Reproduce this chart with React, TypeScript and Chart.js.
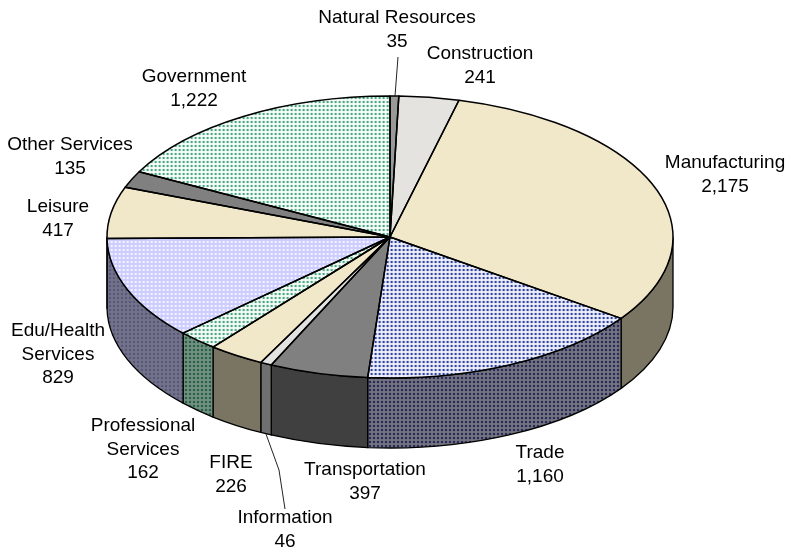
import React, { useEffect, useRef } from "react";
import { Chart, registerables } from "chart.js";

Chart.register(...registerables);

const categories = [
  "Natural Resources", "Construction", "Manufacturing", "Trade", "Transportation", "Information",
  "FIRE", "Professional Services", "Edu/Health Services", "Leisure", "Other Services", "Government",
];
const values = [35, 241, 2175, 1160, 397, 46, 226, 162, 829, 417, 135, 1222];

const labelLines = [
  ["Natural Resources"], ["Construction"], ["Manufacturing"], ["Trade"], ["Transportation"], ["Information"],
  ["FIRE"], ["Professional", "Services"], ["Edu/Health", "Services"], ["Leisure"], ["Other Services"], ["Government"],
];
// Label block anchor: centre x, centre y of first line
const labelAnchors = [
  [397, 18], [480, 54], [725, 163], [540, 453], [365, 470], [285, 518],
  [231, 463], [143, 426], [58, 331], [58, 207], [70, 145], [194, 77],
];
const leaderLines = [
  [[398, 57], [395, 96]],
  [[266, 434], [279, 470], [285, 509]],
];

type Fill = string | [string, string];
const topFills: Fill[] = [
  "#999999", "#E4E3DF", "#F0E8C8", ["#EEF0FA", "#2F42A0"], "#808080", "#E2E2E0",
  "#F0E8C8", ["#F6FBF8", "#48A883"], ["#CCCCFF", "#F4F4FF"], "#F0E8C8", "#808080", ["#FAFDFB", "#48A883"],
];
const wallFills: Fill[] = [
  "#4D4D4D", "#727270", "#7A7562", ["#74747E", "#262A5C"], "#404040", "#707070",
  "#7A7562", ["#72907F", "#28604A"], ["#72728A", "#585878"], "#7A7562", "#404040", "#5F8A78",
];

const GEOM = { cx: 390, cy: 237, rx: 283, ry: 141, depth: 70 };
const FONT = '19px "Liberation Sans", Arial, sans-serif';
const LINE_H = 23.3;

function resolve(ctx: CanvasRenderingContext2D, f: Fill): string | CanvasPattern {
  if (typeof f === "string") return f;
  const c = document.createElement("canvas");
  c.width = 4;
  c.height = 4;
  const g = c.getContext("2d")!;
  g.fillStyle = f[0];
  g.fillRect(0, 0, 4, 4);
  g.fillStyle = f[1];
  g.globalAlpha = 0.08;
  g.fillRect(0, 1, 4, 2);
  g.fillRect(1, 0, 2, 4);
  g.globalAlpha = 1;
  g.fillRect(1, 1, 2, 2);
  return ctx.createPattern(c, "repeat")!;
}

export default function App() {
  const ref = useRef<HTMLCanvasElement>(null);
  useEffect(() => {
    const canvas = ref.current!;
    const ctx = canvas.getContext("2d")!;
    const tops = topFills.map((f) => resolve(ctx, f));
    const walls = wallFills.map((f) => resolve(ctx, f));
    const { cx, cy, rx, ry, depth } = GEOM;

    const pie3d = {
      id: "pie3d",
      beforeDatasetsDraw(chart: any) {
        const c = chart.ctx as CanvasRenderingContext2D;
        const arcs = chart.getDatasetMeta(0).data;
        c.save();
        c.strokeStyle = "#000";
        c.lineWidth = 1.3;
        c.lineJoin = "round";
        arcs.forEach((a: any, i: number) => {
          const s = Math.max(a.startAngle, 0);
          const e = Math.min(a.endAngle, Math.PI);
          if (e <= s) return;
          c.beginPath();
          c.ellipse(cx, cy, rx, ry, 0, s, e, false);
          c.ellipse(cx, cy + depth, rx, ry, 0, e, s, true);
          c.closePath();
          c.fillStyle = walls[i] as any;
          c.fill();
          c.stroke();
        });
        c.restore();
      },
      beforeDatasetDraw(chart: any) {
        const c = chart.ctx as CanvasRenderingContext2D;
        const a = chart.getDatasetMeta(0).data[0];
        const sx = rx / a.outerRadius;
        const sy = ry / a.outerRadius;
        tops.forEach((p: any) => {
          if (typeof p !== "string") p.setTransform(new DOMMatrix([1 / sx, 0, 0, 1 / sy, 0, 0]));
        });
        c.save();
        c.translate(cx, cy);
        c.scale(sx, sy);
        c.translate(-a.x, -a.y);
      },
      afterDatasetDraw(chart: any) {
        chart.ctx.restore();
      },
      afterDatasetsDraw(chart: any) {
        const c = chart.ctx as CanvasRenderingContext2D;
        const arcs = chart.getDatasetMeta(0).data;
        c.save();
        c.strokeStyle = "#000";
        c.lineWidth = 1.5;
        c.lineJoin = "round";
        arcs.forEach((a: any) => {
          c.beginPath();
          c.moveTo(cx, cy);
          c.ellipse(cx, cy, rx, ry, 0, a.startAngle, a.endAngle, false);
          c.closePath();
          c.stroke();
        });
        c.lineWidth = 1;
        c.strokeStyle = "#222";
        leaderLines.forEach((pts) => {
          c.beginPath();
          pts.forEach((p, k) => (k ? c.lineTo(p[0], p[1]) : c.moveTo(p[0], p[1])));
          c.stroke();
        });
        c.fillStyle = "#000";
        c.font = FONT;
        c.textAlign = "center";
        c.textBaseline = "middle";
        categories.forEach((_, i) => {
          const lines = [...labelLines[i], values[i].toLocaleString("en-US")];
          lines.forEach((t, j) => c.fillText(t, labelAnchors[i][0], labelAnchors[i][1] + j * LINE_H));
        });
        c.restore();
      },
    };

    const chart = new Chart(canvas, {
      type: "pie",
      data: {
        labels: categories,
        datasets: [{ data: values, backgroundColor: tops as any, borderWidth: 0, clip: false as any }],
      },
      options: {
        responsive: false,
        animation: false,
        events: [],
        rotation: 0,
        layout: { padding: 0 },
        plugins: { legend: { display: false }, tooltip: { enabled: false }, title: { display: false } },
      },
      plugins: [pie3d as any],
    });
    return () => chart.destroy();
  }, []);
  return (
    <canvas
      ref={ref}
      width={786}
      height={550}
      style={{ position: "absolute", left: 0, top: 0, display: "block", background: "#fff" }}
    />
  );
}
